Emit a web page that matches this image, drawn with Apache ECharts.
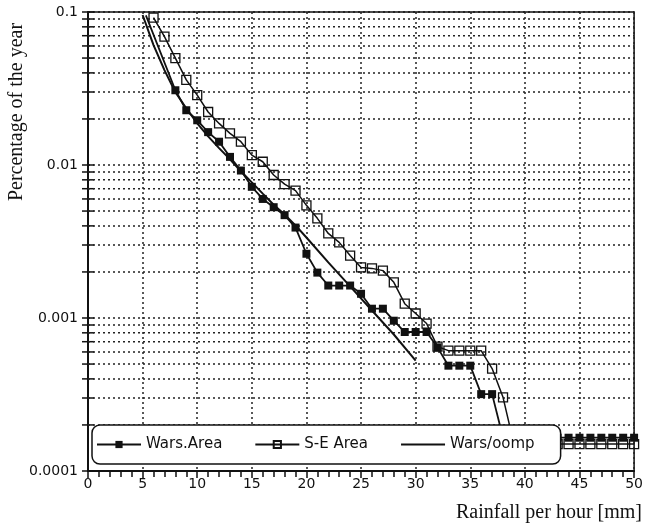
<!DOCTYPE html>
<html>
<head>
<meta charset="utf-8">
<script src="https://cdn.jsdelivr.net/npm/echarts@6/dist/echarts.min.js"></script>
<style>
html, body { margin: 0; padding: 0; background: #fff; }
#main { width: 646px; height: 529px; }
</style>
</head>
<body>
<div id="main"></div>
<script>
// Wars.Area (filled squares)
var warsAreaX = [5.3, 8, 9, 10, 11, 12, 13, 14, 15, 16, 17, 18, 19, 20, 21, 22, 23, 24, 25, 26, 27, 28, 29, 30,
    31, 32, 33, 34, 35, 36, 37, 38, 39, 40, 41, 42, 43, 44, 45, 46, 47, 48, 49, 50];
var warsAreaY = [0.095, 0.0308, 0.0228, 0.0196, 0.0164, 0.0142, 0.0113, 0.0092, 0.0072, 0.006, 0.0053, 0.0047, 0.0039,
    0.00263, 0.00198, 0.00163, 0.00163, 0.00163, 0.00144, 0.00115, 0.00115, 0.00096, 0.00081, 0.00081,
    0.00081, 0.000643, 0.000488, 0.000488, 0.000488, 0.000318, 0.000318, 0.000165, 0.000165, 0.000165,
    0.000165, 0.000165, 0.000165, 0.000165, 0.000165, 0.000165, 0.000165, 0.000165, 0.000165, 0.000165];

// S-E Area (open squares)
var seAreaX = [6, 7, 8, 9, 10, 11, 12, 13, 14, 15, 16, 17, 18, 19, 20, 21, 22, 23, 24, 25, 26, 27, 28, 29, 30,
    31, 32, 33, 34, 35, 36, 37, 38, 39, 40, 41, 42, 43, 44, 45, 46, 47, 48, 49, 50];
var seAreaY = [0.092, 0.069, 0.050, 0.036, 0.0286, 0.0222, 0.0187, 0.0161, 0.0142, 0.0116, 0.0105, 0.0086, 0.0075, 0.0068,
    0.00545, 0.00448, 0.00357, 0.00312, 0.00256, 0.00214, 0.00211, 0.00204, 0.00171, 0.00124, 0.00107,
    0.00092, 0.00065, 0.000612, 0.000612, 0.000612, 0.000612, 0.000467, 0.000303, 0.00015, 0.00015,
    0.00015, 0.00015, 0.00015, 0.00015, 0.00015, 0.00015, 0.00015, 0.00015, 0.00015, 0.00015];

// Wars/comp (plain line)
var compX = [5, 6, 7, 8, 9, 10, 11, 12, 13, 14, 15, 16, 17, 18, 19, 20, 22, 24, 26, 28, 30];
var compY = [0.0956, 0.0608, 0.0417, 0.0299, 0.0235, 0.0187, 0.0154, 0.0129, 0.0109, 0.0091, 0.0077,
    0.0065, 0.0055, 0.00475, 0.00403, 0.00336, 0.00231, 0.00161, 0.00112, 0.00078, 0.000526];

var seriesNames = ['Wars.Area', 'S-E Area', 'Wars/oomp'];
var yTickValues = [0.0001, 0.001, 0.01, 0.1];
var yTickLabels = ['0.0001', '0.001', '0.01', '0.1'];
var yMinorTicks = [0.0002, 0.0003, 0.0004, 0.0005, 0.0006, 0.0007, 0.0008, 0.0009,
    0.002, 0.003, 0.004, 0.005, 0.006, 0.007, 0.008, 0.009,
    0.02, 0.03, 0.04, 0.05, 0.06, 0.07, 0.08, 0.09];

function zip(xs, ys) {
    var out = [];
    for (var i = 0; i < xs.length; i++) out.push([xs[i], ys[i]]);
    return out;
}

var warsData = zip(warsAreaX, warsAreaY);
// first point is only the start of the line, no marker there
warsData[0] = { value: warsData[0], symbol: 'none' };

var ink = '#111';
var dotted = { color: '#222', width: 1.5, type: [2, 3] };

var myChart = echarts.init(document.getElementById('main'));

var option = {
    backgroundColor: '#fff',
    animation: false,
    grid: {
        left: 88, right: 4, top: 12, bottom: 58,
        show: true, borderColor: ink, borderWidth: 1.5, backgroundColor: '#fff'
    },
    legend: {
        data: [
            { name: seriesNames[0] },
            { name: seriesNames[1] },
            { name: seriesNames[2], itemStyle: { opacity: 0 } }
        ],
        left: 92, top: 425,
        backgroundColor: '#fff',
        borderColor: ink, borderWidth: 1.5, borderRadius: 8,
        padding: [12, 26, 12, 4],
        itemWidth: 44, itemHeight: 9, itemGap: 32,
        textStyle: { fontFamily: 'DejaVu Sans', fontSize: 15, color: ink }
    },
    xAxis: {
        type: 'value', min: 0, max: 50, interval: 5,
        axisLine: { lineStyle: { color: ink, width: 2 } },
        axisTick: { length: 7, lineStyle: { color: ink, width: 1.5 } },
        minorTick: { show: true, splitNumber: 5, length: 6, lineStyle: { color: ink, width: 1.5 } },
        splitLine: { show: true, lineStyle: dotted },
        axisLabel: { color: ink, fontFamily: 'DejaVu Sans', fontSize: 14, margin: 6 }
    },
    yAxis: {
        type: 'log', logBase: 10, min: 0.0001, max: 0.1,
        axisLine: { lineStyle: { color: ink, width: 2 } },
        axisTick: { show: false },
        splitLine: { show: true, lineStyle: dotted },
        axisLabel: {
            color: ink, fontFamily: 'DejaVu Sans', fontSize: 14, margin: 10,
            formatter: function (v) {
                for (var i = 0; i < yTickValues.length; i++) {
                    if (Math.abs(Math.log10(v) - Math.log10(yTickValues[i])) < 1e-6) return yTickLabels[i];
                }
                return '';
            }
        }
    },
    graphic: [
        {
            type: 'text', x: 17, y: 112, rotation: Math.PI / 2,
            style: {
                text: 'Percentage of the year', font: '20px "Liberation Serif"',
                fill: ink, textAlign: 'center', textVerticalAlign: 'middle'
            }
        },
        {
            type: 'text', x: 642, y: 513,
            style: {
                text: 'Rainfall per hour [mm]', font: '20px "Liberation Serif"',
                fill: ink, textAlign: 'right', textVerticalAlign: 'middle'
            }
        }
    ],
    series: [
        {
            // minor log grid lines and ticks across the y axis
            type: 'custom', silent: true, z: 1,
            data: yMinorTicks.concat(yTickValues).map(function (v, i) { return [0, v, i < yMinorTicks.length ? 1 : 0]; }),
            renderItem: function (params, api) {
                var v = api.value(1);
                var p0 = api.coord([0, v]);
                var p1 = api.coord([50, v]);
                var children = [
                    { type: 'line', shape: { x1: p0[0] - 6, y1: p0[1], x2: p0[0] + 6, y2: p0[1] },
                      style: { stroke: ink, lineWidth: 1.5 } }
                ];
                if (api.value(2) === 1) {
                    children.push({ type: 'line', shape: { x1: p0[0], y1: p0[1], x2: p1[0], y2: p1[1] },
                        style: { stroke: '#222', lineWidth: 1.5, lineDash: [2, 3] } });
                }
                return { type: 'group', children: children };
            }
        },
        {
            name: 'Wars.Area', type: 'line', z: 3,
            data: warsData,
            symbol: 'rect', symbolSize: 8,
            itemStyle: { color: ink },
            lineStyle: { color: ink, width: 1.8 }
        },
        {
            name: 'S-E Area', type: 'line', z: 3,
            data: zip(seAreaX, seAreaY),
            symbol: 'rect', symbolSize: 9,
            itemStyle: { color: 'rgba(255,255,255,0)', borderColor: ink, borderWidth: 1.3 },
            lineStyle: { color: ink, width: 1.5 }
        },
        {
            name: 'Wars/oomp', type: 'line', z: 3,
            data: zip(compX, compY),
            showSymbol: false, symbol: 'none',
            itemStyle: { color: ink },
            lineStyle: { color: ink, width: 2 }
        }
    ]
};

myChart.setOption(option);
</script>
</body>
</html>
